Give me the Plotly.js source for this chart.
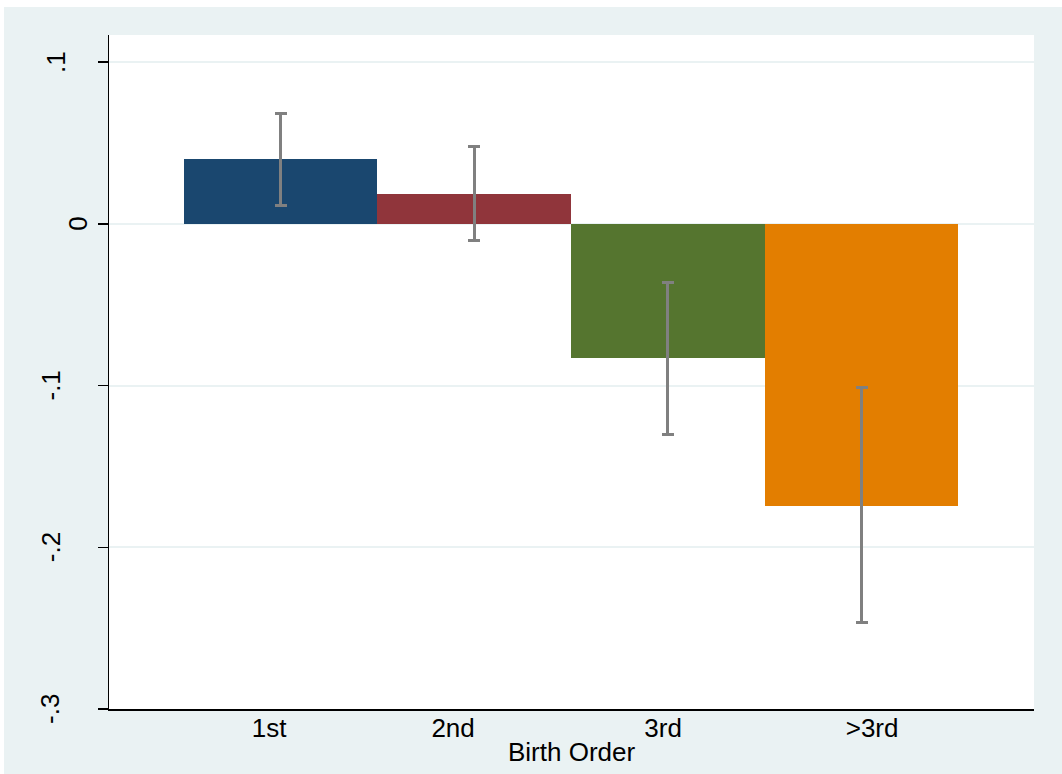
<!DOCTYPE html>
<html>
<head>
<meta charset="utf-8">
<script src="https://cdn.plot.ly/plotly-3.0.1.min.js"></script>
<style>
  html, body { margin: 0; padding: 0; background: #ffffff; }
  #chart { position: absolute; left: 4px; top: 7px; width: 1058px; height: 767px; }
</style>
</head>
<body>
<div id="chart"></div>
<script>
// ---- data ----
const categories = ["1st", "2nd", "3rd", ">3rd"];
const estimates = [0.040, 0.0187, -0.0828, -0.1743];
const ciUpper = [0.068, 0.0478, -0.0365, -0.1014];
const ciLower = [0.0116, -0.0103, -0.1304, -0.2467];
const barColors = ["#1A476F", "#90353B", "#55752F", "#E37E00"];
const yTickVals = [0.1, 0, -0.1, -0.2, -0.3];
const yTickText = [".1", "0", "-.1", "-.2", "-.3"];
const xTitle = "Birth Order";

// ---- layout constants ----
const xLabelPos = [0.941, 1.891, 2.975, 4.054];
const yLabelShift = [-53, -31, -58, -58, -59];
const FONT = "Liberation Sans, Arial, sans-serif";
const FS = 26;

const traces = categories.map((c, i) => ({
  type: "bar",
  x: [i + 1],
  y: [estimates[i]],
  width: [1],
  name: c,
  marker: { color: barColors[i], line: { width: 0 } },
  error_y: {
    type: "data",
    symmetric: false,
    array: [ciUpper[i] - estimates[i]],
    arrayminus: [estimates[i] - ciLower[i]],
    color: "#808080",
    thickness: 3,
    width: 6
  },
  hoverinfo: "y"
}));

const annotations = yTickVals.map((v, i) => ({
  xref: "paper", yref: "y",
  x: 0, y: v,
  xanchor: "center", yanchor: "middle",
  xshift: yLabelShift[i],
  text: yTickText[i],
  textangle: -90,
  showarrow: false,
  font: { family: FONT, size: FS, color: "#000000" }
}));
annotations.push({
  xref: "paper", yref: "paper",
  x: 0.5, y: 0,
  xanchor: "center", yanchor: "middle",
  yshift: -43,
  text: xTitle,
  showarrow: false,
  font: { family: FONT, size: FS, color: "#000000" }
});

const layout = {
  width: 1058,
  height: 767,
  margin: { l: 105, r: 28, t: 28, b: 65 },
  paper_bgcolor: "#EAF2F3",
  plot_bgcolor: "#ffffff",
  showlegend: false,
  bargap: 0,
  font: { family: FONT, color: "#000000", size: FS },
  annotations: annotations,
  xaxis: {
    range: [0.1146, 4.890],
    tickvals: xLabelPos,
    ticktext: categories,
    ticks: "",
    showgrid: false,
    zeroline: false,
    showline: true,
    linecolor: "#000000",
    linewidth: 1.5,
    tickfont: { family: FONT, size: FS, color: "#000000" },
    ticklabelstandoff: -5,
    fixedrange: true
  },
  yaxis: {
    range: [-0.3, 0.1167],
    tickvals: yTickVals,
    showticklabels: false,
    ticks: "outside",
    ticklen: 10,
    tickwidth: 1.5,
    tickcolor: "#000000",
    showgrid: true,
    gridcolor: "#EAF2F3",
    gridwidth: 2,
    zeroline: false,
    showline: true,
    linecolor: "#000000",
    linewidth: 1.5,
    fixedrange: true
  }
};

Plotly.newPlot("chart", traces, layout, { displayModeBar: false, staticPlot: true });
</script>
</body>
</html>
